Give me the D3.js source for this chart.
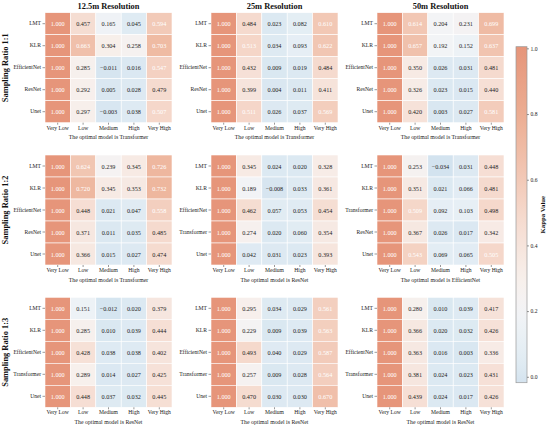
<!DOCTYPE html>
<html><head><meta charset="utf-8">
<script src="https://cdn.jsdelivr.net/npm/d3@7"></script>
<style>body{margin:0;background:#fff}svg{display:block}</style>
</head><body>
<script>
// ---------- data ----------
const resolutions = ["12.5m Resolution", "25m Resolution", "50m Resolution"];
const ratios = ["Sampling Ratio 1:1", "Sampling Ratio 1:2", "Sampling Ratio 1:3"];
const classes = ["Very Low", "Low", "Medium", "High", "Very High"];
const optimalModels = [
  ["Transformer", "Transformer", "Transformer"],
  ["Transformer", "ResNet", "EfficientNet"],
  ["ResNet", "ResNet", "ResNet"]
];
const models_1_1 = ["LMT", "KLR", "EfficientNet", "ResNet", "Unet"];
const models_1_2 = ["LMT", "KLR", "EfficientNet", "ResNet", "Unet"];
const models_1_3 = ["LMT", "KLR", "EfficientNet", "ResNet", "Unet"];
const models_2_1 = ["LMT", "KLR", "EfficientNet", "ResNet", "Unet"];
const models_2_2 = ["LMT", "KLR", "EfficientNet", "Transformer", "Unet"];
const models_2_3 = ["LMT", "KLR", "Transformer", "ResNet", "Unet"];
const models_3_1 = ["LMT", "KLR", "EfficientNet", "Transformer", "Unet"];
const models_3_2 = ["LMT", "KLR", "EfficientNet", "Transformer", "Unet"];
const models_3_3 = ["LMT", "KLR", "EfficientNet", "Transformer", "Unet"];

const kappa_1_1 = [
  [1.000, 0.457, 0.165, 0.045, 0.594],
  [1.000, 0.663, 0.304, 0.258, 0.703],
  [1.000, 0.285, -0.011, 0.016, 0.547],
  [1.000, 0.292, 0.005, 0.028, 0.479],
  [1.000, 0.297, -0.003, 0.038, 0.507]];
const kappa_1_2 = [
  [1.000, 0.484, 0.023, 0.082, 0.610],
  [1.000, 0.513, 0.034, 0.093, 0.622],
  [1.000, 0.432, 0.009, 0.019, 0.484],
  [1.000, 0.399, 0.004, 0.011, 0.411],
  [1.000, 0.511, 0.026, 0.037, 0.569]];
const kappa_1_3 = [
  [1.000, 0.614, 0.204, 0.231, 0.699],
  [1.000, 0.657, 0.192, 0.152, 0.637],
  [1.000, 0.350, 0.026, 0.031, 0.481],
  [1.000, 0.326, 0.023, 0.015, 0.440],
  [1.000, 0.420, 0.003, 0.027, 0.581]];
const kappa_2_1 = [
  [1.000, 0.624, 0.239, 0.345, 0.726],
  [1.000, 0.720, 0.345, 0.353, 0.732],
  [1.000, 0.448, 0.021, 0.047, 0.558],
  [1.000, 0.371, 0.011, 0.035, 0.485],
  [1.000, 0.366, 0.015, 0.027, 0.474]];
const kappa_2_2 = [
  [1.000, 0.345, 0.024, 0.020, 0.328],
  [1.000, 0.189, -0.008, 0.033, 0.361],
  [1.000, 0.462, 0.057, 0.053, 0.454],
  [1.000, 0.274, 0.020, 0.060, 0.354],
  [1.000, 0.042, 0.031, 0.023, 0.393]];
const kappa_2_3 = [
  [1.000, 0.253, -0.034, 0.031, 0.448],
  [1.000, 0.351, 0.021, 0.066, 0.481],
  [1.000, 0.509, 0.092, 0.103, 0.498],
  [1.000, 0.367, 0.026, 0.017, 0.342],
  [1.000, 0.543, 0.069, 0.065, 0.505]];
const kappa_3_1 = [
  [1.000, 0.151, -0.012, 0.020, 0.379],
  [1.000, 0.285, 0.010, 0.039, 0.444],
  [1.000, 0.428, 0.038, 0.038, 0.402],
  [1.000, 0.289, 0.014, 0.027, 0.425],
  [1.000, 0.448, 0.037, 0.032, 0.445]];
const kappa_3_2 = [
  [1.000, 0.295, 0.034, 0.029, 0.561],
  [1.000, 0.229, 0.009, 0.039, 0.563],
  [1.000, 0.493, 0.040, 0.029, 0.587],
  [1.000, 0.257, 0.009, 0.028, 0.564],
  [1.000, 0.470, 0.030, 0.030, 0.670]];
const kappa_3_3 = [
  [1.000, 0.280, 0.010, 0.039, 0.417],
  [1.000, 0.366, 0.020, 0.032, 0.426],
  [1.000, 0.363, 0.016, 0.003, 0.336],
  [1.000, 0.381, 0.024, 0.023, 0.431],
  [1.000, 0.439, 0.024, 0.017, 0.426]];
const colorbarTicks = [0.0, 0.2, 0.4, 0.6, 0.8, 1.0];

const panelModels = [[models_1_1, models_1_2, models_1_3],[models_2_1, models_2_2, models_2_3],[models_3_1, models_3_2, models_3_3]];
const panelValues = [[kappa_1_1, kappa_1_2, kappa_1_3],[kappa_2_1, kappa_2_2, kappa_2_3],[kappa_3_1, kappa_3_2, kappa_3_3]];

// ---------- drawing ----------
const W = 550, H = 426;
const FONT = "'Liberation Serif','Times New Roman',serif";
const svg = d3.select("body").append("svg").attr("width", W).attr("height", H)
  .style("font-family", FONT);

const color = d3.scaleLinear()
  .domain([-0.02, 0.0, 0.1, 0.2, 0.3, 0.4, 0.5, 0.6, 0.7, 0.8, 1.0])
  .range(["#d3e3ef", "#d9e7f1", "#e7eff5", "#f3f4f6", "#f7efeb", "#f6e4dc", "#f5d8cb", "#f2c9b7", "#efbba4", "#ecad92", "#e6957a"])
  .interpolate(d3.interpolateRgb).clamp(true);

const colX = [45, 211, 377];
const rowY = [12.7, 155, 297.3];
const pw = 127, ph = 110;

panelValues.forEach((rowArr, r) => {
  rowArr.forEach((vals, c) => {
    const models = panelModels[r][c];
    const g = svg.append("g").attr("transform", `translate(${colX[c]},${rowY[r]})`);
    const x = d3.scaleBand().domain(classes).range([0, pw]);
    const y = d3.scaleBand().domain(models).range([0, ph]);
    const cells = [];
    vals.forEach((row, i) => row.forEach((v, j) => cells.push({m: models[i], k: classes[j], v})));
    g.selectAll("rect").data(cells).join("rect")
      .attr("x", d => x(d.k)).attr("y", d => y(d.m))
      .attr("width", x.bandwidth()).attr("height", y.bandwidth())
      .attr("fill", d => color(d.v)).attr("stroke", "#fff").attr("stroke-width", 0.6);
    g.selectAll("text.val").data(cells).join("text").attr("class", "val")
      .attr("x", d => x(d.k) + x.bandwidth() / 2).attr("y", d => y(d.m) + y.bandwidth() / 2)
      .attr("text-anchor", "middle").attr("dominant-baseline", "central")
      .attr("font-size", 6.2).attr("fill", d => d.v > 0.5 ? "#fff" : "#262626")
      .text(d => d3.format(".3f")(d.v));
    // axes
    const xa = g.append("g").attr("transform", `translate(0,${ph})`)
      .call(d3.axisBottom(x).tickSize(2).tickPadding(1));
    const ya = g.append("g").call(d3.axisLeft(y).tickSize(2.5).tickPadding(1.5));
    [xa, ya].forEach(a => {
      a.select(".domain").remove();
      a.selectAll("line").attr("stroke", "#333").attr("stroke-width", 0.5);
      a.selectAll("text").attr("font-size", 5.6).attr("font-family", FONT).attr("fill", "#222");
    });
    g.append("text").attr("x", pw / 2).attr("y", ph + 16.5)
      .attr("text-anchor", "middle").attr("font-size", 5.8).attr("fill", "#222")
      .text(`The optimal model is ${optimalModels[r][c]}`);
    if (r === 0) {
      g.append("text").attr("x", pw / 2).attr("y", -4)
        .attr("text-anchor", "middle").attr("font-size", 8.4).attr("font-weight", "bold").attr("fill", "#111")
        .text(resolutions[c]);
    }
    if (c === 0) {
      g.append("text").attr("transform", `translate(${-37},${ph / 2}) rotate(-90)`)
        .attr("text-anchor", "middle").attr("font-size", 8.4).attr("font-weight", "bold").attr("fill", "#111")
        .text(ratios[r]);
    }
  });
});

// colorbar
const cbX = 516, cbW = 11, cbTop = 46.7, cbBot = 382.7;
const cbScale = d3.scaleLinear().domain([-0.018, 1.005]).range([cbBot, cbTop]);
const defs = svg.append("defs");
const grad = defs.append("linearGradient").attr("id", "cbgrad")
  .attr("x1", 0).attr("y1", 1).attr("x2", 0).attr("y2", 0);
d3.range(0, 1.0001, 0.05).forEach(t => {
  const v = -0.018 + t * (1.005 + 0.018);
  grad.append("stop").attr("offset", t).attr("stop-color", color(v));
});
svg.append("rect").attr("x", cbX).attr("y", cbTop).attr("width", cbW).attr("height", cbBot - cbTop)
  .attr("fill", "url(#cbgrad)").attr("stroke", "#999").attr("stroke-width", 0.7);
const cba = svg.append("g").attr("transform", `translate(${cbX + cbW},0)`)
  .call(d3.axisRight(cbScale).tickValues(colorbarTicks).tickFormat(d3.format(".1f")).tickSize(2).tickPadding(1.5));
cba.select(".domain").remove();
cba.selectAll("line").attr("stroke", "#333").attr("stroke-width", 0.5);
cba.selectAll("text").attr("font-size", 5.6).attr("font-family", FONT).attr("fill", "#222");
svg.append("text").attr("transform", `translate(${545},${(cbTop + cbBot) / 2}) rotate(-90)`)
  .attr("text-anchor", "middle").attr("font-size", 6.8).attr("font-weight", "bold").attr("fill", "#111")
  .text("Kappa Value");
</script>
</body></html>
